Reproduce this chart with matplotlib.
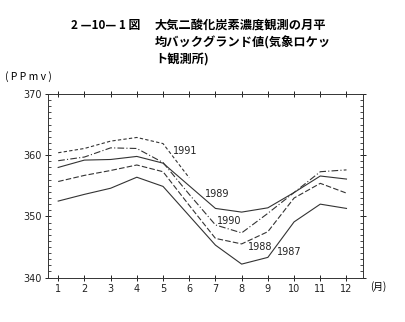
import matplotlib
matplotlib.use("Agg")
import matplotlib.pyplot as plt
from matplotlib.ticker import MultipleLocator

plt.rcParams['font.family'] = ['Noto Sans CJK JP', 'DejaVu Sans']

# 月平均バックグランド値 (ppmv), 1〜12月
months = list(range(1, 13))
co2_1987 = [352.5, 353.6, 354.6, 356.4, 354.9, 350.1, 345.3, 342.2, 343.3, 349.1, 352.0, 351.3]
co2_1988 = [355.7, 356.7, 357.5, 358.4, 357.3, 351.8, 346.4, 345.5, 347.5, 353.0, 355.4, 353.8]
co2_1989 = [358.0, 359.2, 359.3, 359.8, 358.7, 355.0, 351.3, 350.7, 351.4, 353.9, 356.6, 356.1]
co2_1990 = [359.1, 359.7, 361.2, 361.1, 358.8, 353.6, 348.6, 347.3, 350.5, 353.9, 357.3, 357.6]
co2_1991 = [360.4, 361.1, 362.3, 362.9, 361.9, 356.3]

years = ['1987', '1988', '1989', '1990', '1991']
series = [co2_1987, co2_1988, co2_1989, co2_1990, co2_1991]
styles = ['-', (0, (5, 2)), '-', (0, (6, 2, 1, 2)), (0, (3, 2))]
# label positions (data coords)
label_pos = [(9.82, 344.1), (8.70, 345.0), (7.05, 353.7), (7.53, 349.3), (5.86, 360.7)]

fig = plt.figure(figsize=(4.06, 3.22), dpi=100)
ax = fig.add_axes([0.1175, 0.138, 0.7766, 0.570])

for yr, vals, ls, pos in zip(years, series, styles, label_pos):
    ax.plot(months[:len(vals)], vals, color='#333333', lw=0.8, linestyle=ls)
    ax.text(pos[0], pos[1], yr, fontsize=7, ha='center', va='center',
            family='DejaVu Sans', color='#222222')

ax.set_xlim(0.6, 12.63)
ax.set_ylim(340, 370)
ax.set_xticks(months)
ax.set_yticks([340, 350, 360, 370])
ax.yaxis.set_minor_locator(MultipleLocator(1))
ax.tick_params(axis='both', which='major', direction='inout', length=5, width=0.7,
               labelsize=7, pad=2, top=True, right=True, colors='#222222')
ax.tick_params(axis='y', which='minor', direction='in', length=2, width=0.5,
               left=True, right=True)
for lab in ax.get_xticklabels() + ax.get_yticklabels():
    lab.set_family('DejaVu Sans')
for sp in ax.spines.values():
    sp.set_linewidth(0.7)
    sp.set_color('#333333')

ax.text(12.9, 338.5, '(月)', fontsize=7, ha='left', va='center', clip_on=False)

fig.text(71 / 406, 1 - 25 / 322, '2 —10— 1 図', fontsize=8.5, fontweight='bold',
         ha='left', va='center')
fig.text(155 / 406, 1 - 25 / 322, '大気二酸化炭素濃度観測の月平', fontsize=8.8,
         fontweight='bold', ha='left', va='center')
fig.text(155 / 406, 1 - 43 / 322, '均バックグランド値(気象ロケッ', fontsize=8.8,
         fontweight='bold', ha='left', va='center')
fig.text(155 / 406, 1 - 60 / 322, 'ト観測所)', fontsize=8.8,
         fontweight='bold', ha='left', va='center')
fig.text(5 / 406, 1 - 77 / 322, '( P P m v )', fontsize=7.5, ha='left', va='center')

fig.savefig('out.png', dpi=100)
